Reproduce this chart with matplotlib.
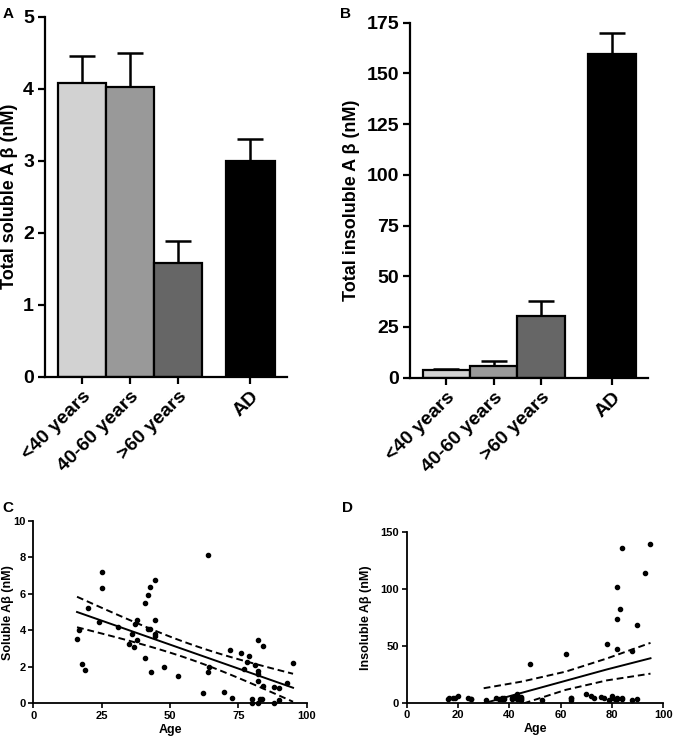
import numpy as np
import matplotlib
matplotlib.use("Agg")
import matplotlib.pyplot as plt

plt.rcParams['font.family'] = ['Liberation Sans', 'DejaVu Sans']
plt.rcParams['font.weight'] = 'bold'

# bar panels
groups = ['<40 years', '40-60 years', '>60 years', 'AD']
bar_pos = [0, 1, 2, 3.5]
bar_colors = ['#d2d2d2', '#999999', '#666666', '#000000']
soluble_mean = [4.08, 4.02, 1.58, 3.00]
soluble_err = [0.37, 0.48, 0.30, 0.30]
insoluble_mean = [3.8, 5.9, 30.4, 159.5]
insoluble_err = [0.5, 2.5, 7.2, 10.5]

# scatter panels (same subjects): age, soluble and insoluble A-beta
age = [16, 16.6, 17.9, 18.9, 19.9, 24, 25, 25, 31, 34.9, 36, 37, 37.2, 37.9, 37.8,
       40.9, 40.9, 41.9, 41.9, 42.8, 42.8, 42.9, 44.6, 44.6, 44.6, 44.6, 47.9, 52.9,
       62, 64, 64.1, 64, 69.9, 71.8, 72.8, 75.9, 77, 78, 78.9, 80, 80, 81, 82, 82,
       82, 82, 82, 83, 83.8, 83.9, 84, 87.9, 87.9, 89.9, 89.9, 92.9, 94.9]
soluble = [3.55, 4.04, 2.16, 1.85, 5.24, 4.48, 7.21, 6.31, 4.21, 3.24, 3.82, 3.11, 4.36,
           3.46, 4.56, 5.51, 2.49, 5.93, 4.05, 4.05, 6.36, 1.73, 6.77, 4.56, 3.82, 3.72,
           2.01, 1.49, 0.55, 8.15, 1.99, 1.72, 0.62, 2.92, 0.31, 2.74, 1.9, 2.28, 2.6,
           0.22, 0.0, 2.08, 3.49, 1.77, 1.59, 1.22, 0.0, 0.26, 0.26, 0.95, 3.16, 0.91,
           0.03, 0.82, 0.18, 1.1, 2.23]
insoluble = [3.5, 4, 4, 4.5, 5.5, 4, 3.5, 3, 2.3, 4, 3.5, 4.5, 3, 4, 3.5,
             4, 3.5, 5, 4, 8, 4.5, 3, 4, 5, 3, 2.5, 33.6, 2.3,
             43, 3.8, 2, 4.5, 8, 6, 4, 5, 4.5, 51.8, 2, 4, 6, 3, 101.2, 73.7,
             47.1, 3.5, 4, 82.5, 135.4, 3, 4, 45.6, 2, 67.8, 3, 114, 138.9]
fit_range_c = (16, 95)

# regression line + 95% band for panel D
fit_age_d = [30, 45, 62, 78, 95]
fit_d = [-0.5, 8.8, 19.3, 29.2, 39.0]
fit_d_upper = [12.7, 18.6, 27.3, 38.8, 52.5]
fit_d_lower = [-13.7, -1.0, 11.3, 19.6, 25.5]


def bar_panel(ax, means, errs, ymax, ystep, ylabel, label_x):
    ax.bar(bar_pos, means, width=1.0, color=bar_colors, edgecolor='black',
           linewidth=1.6, zorder=2)
    ax.errorbar(bar_pos, means, yerr=[np.zeros(len(errs)), errs], fmt='none',
                ecolor='black', elinewidth=1.8, capsize=9.5, capthick=1.8, zorder=1)
    ax.set_xlim(-0.77, 4.26)
    ax.set_ylim(0, ymax)
    ax.set_yticks(np.arange(0, ymax + 0.01, ystep))
    ax.set_xticks(bar_pos)
    ax.set_xticklabels(groups, rotation=45, ha='right', rotation_mode='anchor',
                       fontsize=14, fontweight='bold')
    ax.set_ylabel(ylabel, fontsize=13, fontweight='bold')
    ax.yaxis.set_label_coords(label_x, 0.5)
    ax.tick_params(direction='out', length=5, width=1.6, labelsize=14, pad=3)
    for s in ['top', 'right']:
        ax.spines[s].set_visible(False)
    for s in ['left', 'bottom']:
        ax.spines[s].set_linewidth(1.6)


def fit_with_ci(x, y, lo, hi):
    x = np.asarray(x)
    y = np.asarray(y)
    slope, icpt = np.polyfit(x, y, 1)
    n = len(x)
    resid = y - (slope * x + icpt)
    s = np.sqrt(np.sum(resid ** 2) / (n - 2))
    xs = np.linspace(lo, hi, 100)
    ys = slope * xs + icpt
    half = 2.0 * s * np.sqrt(1.0 / n + (xs - x.mean()) ** 2 / np.sum((x - x.mean()) ** 2))
    return xs, ys, ys - half, ys + half


def scatter_panel(ax, x, y, lines, ymax, ystep, ylabel, xticks, label_x):
    ax.plot(x, y, 'o', color='black', markersize=3, clip_on=False, zorder=3)
    xs, ys, lo, hi = lines
    ax.plot(xs, ys, color='black', lw=1.4)
    ax.plot(xs, lo, color='black', lw=1.4, ls=(0, (3.5, 2)))
    ax.plot(xs, hi, color='black', lw=1.4, ls=(0, (3.5, 2)))
    ax.set_xlim(0, 100)
    ax.set_ylim(0, ymax)
    ax.set_xticks(xticks)
    ax.set_yticks(np.arange(0, ymax + 0.01, ystep))
    ax.set_xlabel('Age', fontsize=9, fontweight='bold', labelpad=2)
    ax.set_ylabel(ylabel, fontsize=9, fontweight='bold')
    ax.yaxis.set_label_coords(label_x, 0.5)
    ax.tick_params(direction='out', length=3.5, width=1.2, labelsize=8, pad=2)
    for s in ['top', 'right']:
        ax.spines[s].set_visible(False)
    for s in ['left', 'bottom']:
        ax.spines[s].set_linewidth(1.3)


fig = plt.figure(figsize=(6.75, 7.46), dpi=100)

ax_a = fig.add_axes([0.0667, 0.495, 0.3585, 0.4826])
bar_panel(ax_a, soluble_mean, soluble_err, 5, 1, 'Total soluble A β (nM)', -0.11)

ax_b = fig.add_axes([0.6074, 0.4937, 0.3526, 0.4759])
bar_panel(ax_b, insoluble_mean, insoluble_err, 175, 25, 'Total insoluble A β (nM)', -0.21)

ax_c = fig.add_axes([0.0493, 0.0572, 0.4051, 0.2444])
scatter_panel(ax_c, age, soluble, fit_with_ci(age, soluble, *fit_range_c), 10, 2,
              'Soluble Aβ (nM)', [0, 25, 50, 75, 100], -0.07)

ax_d = fig.add_axes([0.6025, 0.058, 0.3802, 0.2293])
scatter_panel(ax_d, age, insoluble, (fit_age_d, fit_d, fit_d_lower, fit_d_upper), 150, 50,
              'Insoluble Aβ (nM)', [0, 20, 40, 60, 80, 100], -0.135)

for lbl, (x, y) in zip('ABCD', [(0.004, 0.991), (0.504, 0.991), (0.004, 0.328), (0.507, 0.328)]):
    fig.text(x, y, lbl, fontsize=11, fontweight='bold', va='top', ha='left')

fig.savefig('out.png', dpi=100)
